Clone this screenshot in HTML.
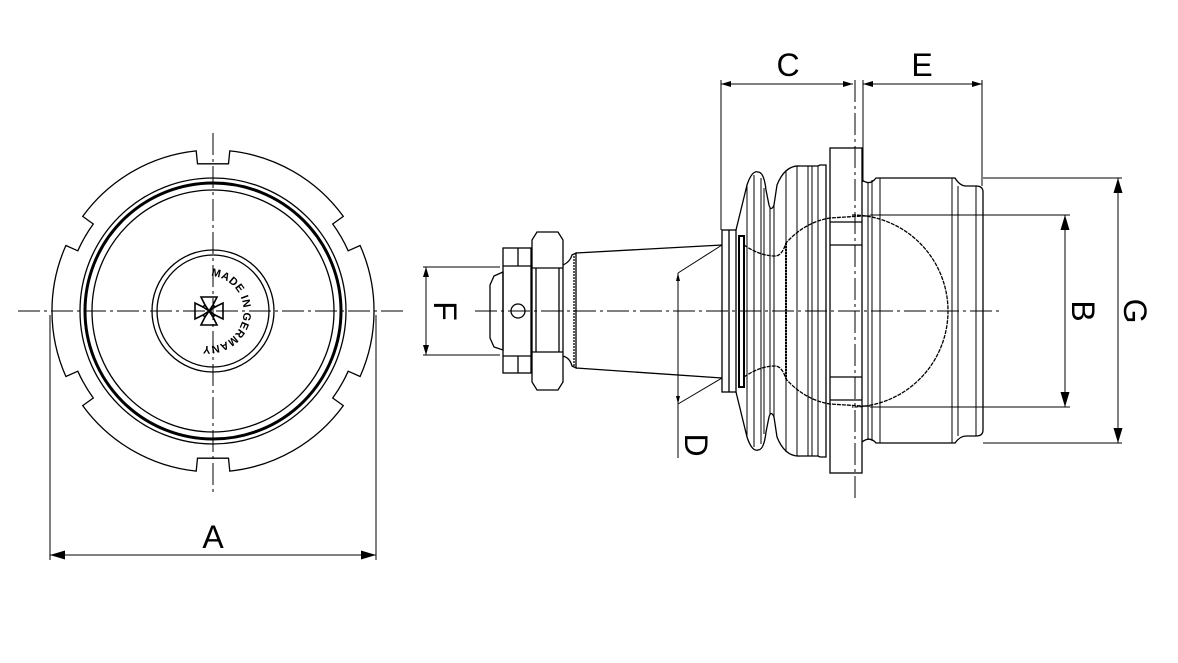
<!DOCTYPE html>
<html><head><meta charset="utf-8"><style>
html,body{margin:0;padding:0;background:#fff}
svg{display:block}
text{font-family:"Liberation Sans",sans-serif;fill:#000}
</style></head><body>
<svg width="1178" height="663" viewBox="0 0 1178 663" xmlns="http://www.w3.org/2000/svg">
<defs>
<marker id="ar" viewBox="0 0 10 6" refX="10" refY="3" markerWidth="10" markerHeight="6" orient="auto-start-reverse" markerUnits="userSpaceOnUse"><path d="M0,0 L10,3 L0,6 z" fill="#000"/></marker>
<marker id="ar2" viewBox="0 0 10 6" refX="10" refY="3" markerWidth="20" markerHeight="9" orient="auto-start-reverse" markerUnits="userSpaceOnUse"><path d="M0,0 L10,3 L0,6 z" fill="#000"/></marker>
<path id="tp" d="M 211,276 A 35 35 0 1 1 206 346"/>
</defs>
<g fill="none" stroke="#000" stroke-width="1.3">
<!-- LEFT VIEW -->
<line x1="18" y1="311" x2="405" y2="311" stroke-dasharray="22,4,3,4" stroke-width="1"/>
<line x1="213" y1="133" x2="213" y2="495" stroke-dasharray="22,4,3,4" stroke-width="1"/>
<g transform="translate(213,311)">
<path d="
M 16.8,-160.1 A 161 161 0 0 1 130.3 -94.6
L 119.7,-87.0 A 148 148 0 0 1 135.2 -60.2
L 147.1,-65.5 A 161 161 0 0 1 147.1 65.5
L 135.2,60.2 A 148 148 0 0 1 119.7 87.0
L 130.3,94.6 A 161 161 0 0 1 16.8 160.1
L 15.5,147.2 L -15.5,147.2 L -16.8,160.1
A 161 161 0 0 1 -130.3 94.6
L -119.7,87.0 A 148 148 0 0 1 -135.2 60.2
L -147.1,65.5 A 161 161 0 0 1 -147.1 -65.5
L -135.2,-60.2 A 148 148 0 0 1 -119.7 -87.0
L -130.3,-94.6 A 161 161 0 0 1 -16.8 -160.1
L -15.5,-147.2 L 15.5,-147.2 Z"/>
<circle r="133"/>
<circle r="128" stroke-width="3"/>
<circle r="121"/>
<circle r="61"/>
<circle r="56"/>
<g stroke-width="1.6" transform="translate(-4,0)">
<path d="M-8,-14 L8,-14 L4,-6 L6,-4 L14,-8 L14,8 L6,4 L4,6 L8,14 L-8,14 L-4,6 L-6,4 L-14,8 L-14,-8 L-6,-4 L-4,-6 Z"/>
<path d="M-4,-6 L4,6 M4,-6 L-4,6 M-6,-4 L6,4 M-6,4 L6,-4"/>
</g>
</g>
<text font-size="11" font-weight="bold" stroke="none" letter-spacing="0.5"><textPath href="#tp">MADE IN GERMANY</textPath></text>
<line x1="50" y1="315" x2="50" y2="560" stroke-width="1"/>
<line x1="376" y1="315" x2="376" y2="560" stroke-width="1"/>
<line x1="50" y1="555" x2="376" y2="555" stroke-width="1" marker-start="url(#ar2)" marker-end="url(#ar2)"/>

<!-- RIGHT VIEW -->
<line x1="475" y1="311" x2="1000" y2="311" stroke-dasharray="22,4,3,4" stroke-width="1"/>
<line x1="855" y1="80" x2="855" y2="502" stroke-dasharray="22,4,3,4" stroke-width="1"/>
<!-- F -->
<line x1="423" y1="267" x2="500" y2="267" stroke-width="1"/>
<line x1="423" y1="355" x2="500" y2="355" stroke-width="1"/>
<line x1="426" y1="267" x2="426" y2="355" stroke-width="1" marker-start="url(#ar)" marker-end="url(#ar)"/>
<!-- nut parts -->
<path d="M503,272 L494,276 L490,285 L490,338 L494,347 L503,350 Z"/>
<rect x="503" y="248" width="28" height="125"/>
<line x1="503" y1="266" x2="531" y2="266"/><line x1="503" y1="356" x2="531" y2="356"/>
<path d="M518,248 v18 M518,356 v17"/>
<circle cx="518" cy="311" r="7"/>
<path d="M537,232 L558,232 L563,240 L563,382 L558,390 L537,390 L532,382 L532,240 Z"/>
<line x1="532" y1="268" x2="563" y2="268"/><line x1="532" y1="352" x2="563" y2="352"/>
<line x1="536" y1="268" x2="536" y2="352"/><line x1="559" y1="268" x2="559" y2="352"/>
<path d="M563,265 Q570,262 572,255 L576,253 L576,368 L572,366 Q570,358 563,356"/>
<line x1="574" y1="256" x2="574" y2="366" stroke-dasharray="2,1"/>
<!-- taper -->
<path d="M576,253 L722,245 M576,368 L722,378"/>
<!-- D -->
<line x1="678" y1="273" x2="722" y2="245" stroke-width="1"/>
<line x1="678" y1="404" x2="722" y2="378" stroke-width="1"/>
<line x1="678" y1="273" x2="678" y2="458" stroke-width="1"/>
<path d="M678,273 l-2,8 h4 z M678,404 l-2,-8 h4 z" fill="#000" stroke="none"/>
<!-- plates -->
<rect x="722" y="230" width="14" height="162"/>
<line x1="729" y1="230" x2="729" y2="392"/>
<rect x="739" y="236" width="5" height="151" stroke-width="2"/>
<!-- boot -->
<path d="M736,230 L747,185 Q752,170 758,172 Q764,172 766,190 L769,205 Q771,212 774,205 L777,185 Q785,165 800,166 L818,166 L820,165 L826,165 L826,457 L820,457 L818,456 L800,456 Q785,457 777,437 L774,417 Q771,410 769,417 L766,432 Q764,450 758,450 Q752,452 747,437 L736,392"/>
<path d="M744,245 Q760,256 775,256 Q782,256 786,243 Q805,222 830,218 L862,216" stroke-dasharray="4,1"/>
<path d="M744,377 Q760,366 775,366 Q782,366 786,379 Q805,400 830,404 L862,406" stroke-dasharray="4,1"/>
<g stroke-width="1">
<path d="M747,185 V437 M754,175 V447 M761,178 V444 M764,188 V434 M770,207 V415 M774,205 V417 M786,170 V452 M797,166 V456 M808,166 V456 M812,166 V456 M818,166 V456"/>
</g>
<line x1="786" y1="243" x2="786" y2="379" stroke-width="2" stroke-dasharray="2,1"/>
<!-- flange -->
<rect x="830" y="148" width="32" height="325"/>
<path d="M830,222 H862 M830,245 H862 M830,377 H862 M830,400 H862"/>
<!-- housing -->
<path d="M862,180 Q870,186 876,178 L955,178 Q960,186 966,186 L976,186 Q983,186 983,192 L983,430 Q983,436 976,436 L966,436 Q960,436 955,443 L876,443 Q870,436 862,442"/>
<path d="M868,183 V440 M872,180 V441 M880,178 V443 M952,178 V443 M958,186 V436 M976,186 V436" stroke-width="1"/>
<path d="M862,216 H870 M862,406 H870"/>
<path d="M852,215 A96 96 0 0 1 852 407" stroke-dasharray="4,1"/>
<!-- C, E -->
<line x1="721" y1="80" x2="721" y2="230" stroke-width="1"/>
<line x1="863" y1="80" x2="863" y2="182" stroke-width="1"/>
<line x1="982" y1="80" x2="982" y2="186" stroke-width="1"/>
<line x1="721" y1="84" x2="853" y2="84" stroke-width="1" marker-start="url(#ar)" marker-end="url(#ar)"/>
<line x1="863" y1="84" x2="982" y2="84" stroke-width="1" marker-start="url(#ar)" marker-end="url(#ar)"/>
<!-- B, G -->
<line x1="870" y1="215" x2="1070" y2="215" stroke-width="1"/>
<line x1="870" y1="407" x2="1070" y2="407" stroke-width="1"/>
<line x1="1065" y1="215" x2="1065" y2="407" stroke-width="1" marker-start="url(#ar2)" marker-end="url(#ar2)"/>
<line x1="983" y1="178" x2="1122" y2="178" stroke-width="1"/>
<line x1="983" y1="443" x2="1122" y2="443" stroke-width="1"/>
<line x1="1118" y1="178" x2="1118" y2="443" stroke-width="1" marker-start="url(#ar2)" marker-end="url(#ar2)"/>
</g>
<g font-size="32">
<text x="213" y="548" text-anchor="middle">A</text>
<text x="788" y="76" text-anchor="middle">C</text>
<text x="922" y="76" text-anchor="middle">E</text>
<text transform="translate(434,311) rotate(90)" text-anchor="middle">F</text>
<text transform="translate(685,445) rotate(90)" text-anchor="middle">D</text>
<text transform="translate(1072,311) rotate(90)" text-anchor="middle">B</text>
<text transform="translate(1124,311) rotate(90)" text-anchor="middle">G</text>
</g>
</svg>
</body></html>
